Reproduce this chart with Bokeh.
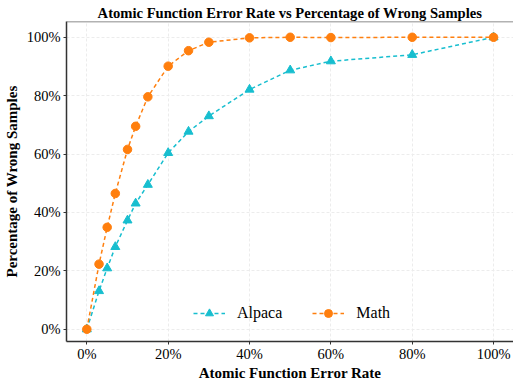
from bokeh.plotting import figure
from bokeh.models import (FixedTicker, PrintfTickFormatter, Legend, LegendItem,
                          Range1d, Span)
from bokeh.embed import file_html
from bokeh.resources import INLINE

error_rate = [0, 3, 5, 7, 10, 12, 15, 20, 25, 30, 40, 50, 60, 80, 100]
alpaca = [0, 13.1, 20.9, 28.2, 37.3, 43.1, 49.5, 60.4, 67.7, 73.0, 82.1, 88.7, 91.8, 94.0, 100]
math_ = [0, 22.3, 34.9, 46.5, 61.6, 69.5, 79.6, 90.1, 95.4, 98.3, 99.8, 100, 99.9, 100, 100]
ticks = [0, 20, 40, 60, 80, 100]

FONT = "Liberation Serif"
C_ALP = "#17becf"
C_MATH = "#ff7f0e"

p = figure(width=513, height=383, output_backend="svg", toolbar_location=None,
           x_range=Range1d(-5.0, 104.9), y_range=Range1d(-4.2, 105.4),
           min_border_left=66, min_border_right=0, min_border_top=21,
           min_border_bottom=40, background_fill_color="white",
           border_fill_color="white")

p.title.text = "Atomic Function Error Rate vs Percentage of Wrong Samples"
p.title.text_font = FONT
p.title.text_font_size = "14.6px"
p.title.text_font_style = "bold"
p.title.align = "center"
p.title.text_color = "black"
p.title.offset = 0
p.title.standoff = 2

p.outline_line_color = None

for ax in (p.xaxis[0], p.yaxis[0]):
    ax.ticker = FixedTicker(ticks=ticks)
    ax.formatter = PrintfTickFormatter(format="%d%%")
    ax.major_label_text_font = FONT
    ax.major_label_text_font_size = "14.5px"
    ax.major_label_text_color = "black"
    ax.axis_label_text_font = FONT
    ax.axis_label_text_font_size = "15px"
    ax.axis_label_text_font_style = "bold"
    ax.axis_label_text_color = "black"
    ax.axis_line_color = "#333333"
    ax.axis_line_width = 1.5
    ax.major_tick_line_color = "#333333"
    ax.major_tick_in = 0
    ax.major_tick_out = 3
    ax.minor_tick_line_color = None

p.xaxis.axis_label = "Atomic Function Error Rate"
p.yaxis.axis_label = "Percentage of Wrong Samples"
p.xaxis.major_label_standoff = 1
p.yaxis.major_label_standoff = 3
p.xaxis.axis_label_standoff = 0
p.yaxis.axis_label_standoff = 4

top_line = Span(location=105.4, dimension="width", line_color="#666666",
                line_width=1.5)
p.add_layout(top_line)

p.grid.grid_line_color = "#ececec"
p.grid.grid_line_dash = "3 2"
p.grid.grid_line_width = 1
p.xgrid.ticker = FixedTicker(ticks=ticks)
p.ygrid.ticker = FixedTicker(ticks=ticks)

la = p.line(error_rate, alpaca, line_color=C_ALP, line_width=1.5, line_dash="4 3")
sa = p.scatter(error_rate, alpaca, marker="triangle", size=9, fill_color=C_ALP,
               line_color=C_ALP)
lm = p.line(error_rate, math_, line_color=C_MATH, line_width=1.5, line_dash="4 3")
sm = p.scatter(error_rate, math_, marker="circle", size=8.5, fill_color=C_MATH,
               line_color=C_MATH)

legend = Legend(items=[LegendItem(label="Alpaca", renderers=[la, sa]),
                       LegendItem(label="Math", renderers=[lm, sm])],
                orientation="horizontal", location=(127, 18),
                border_line_color=None, background_fill_alpha=0,
                label_text_font=FONT, label_text_font_size="16px",
                label_text_color="black", glyph_width=32, glyph_height=20,
                label_standoff=12, spacing=30, padding=2, margin=0)
p.add_layout(legend)

open("out.html", "w").write(file_html(p, INLINE))
